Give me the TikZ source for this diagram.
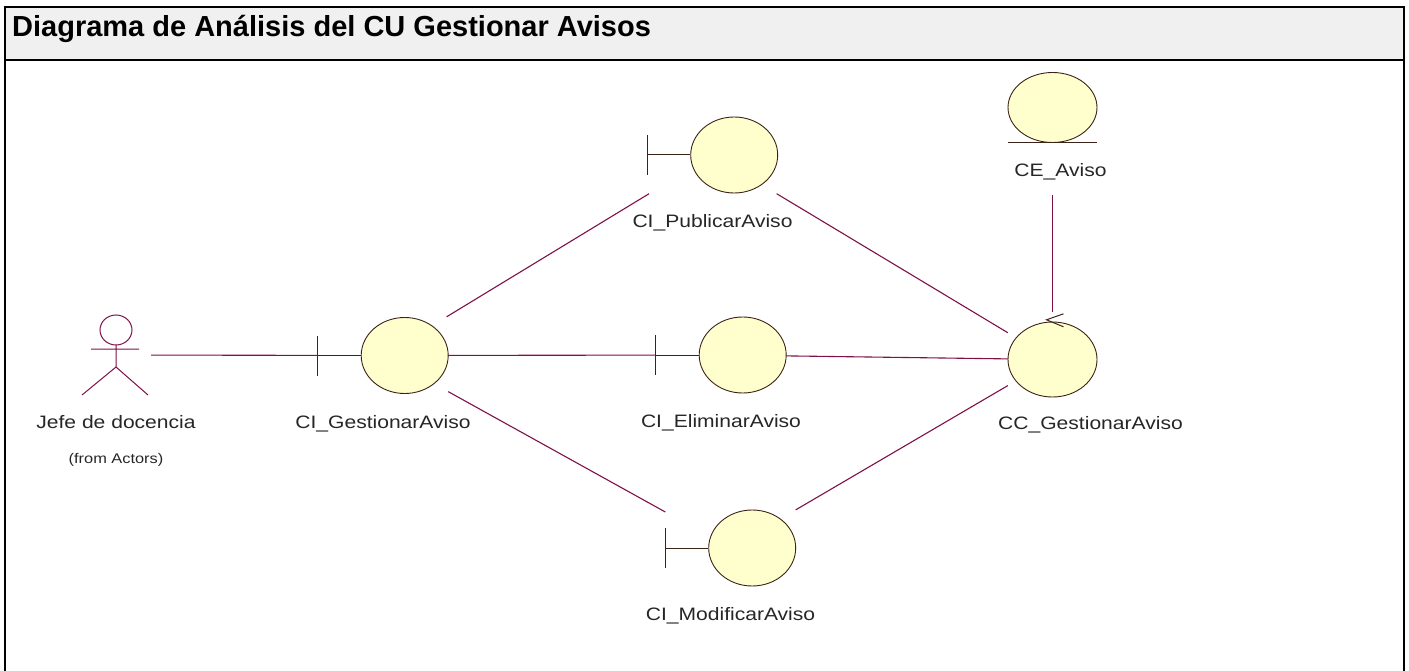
\documentclass[tikz,border=0pt]{standalone}
\usepackage{fontspec}
\setmainfont{Liberation Sans}
\newfontfamily\lblfont[FakeStretch=1.17]{Liberation Sans}
\usetikzlibrary{positioning}
\definecolor{assocc}{RGB}{128,16,72}
\definecolor{objfill}{RGB}{255,255,205}
\definecolor{objline}{RGB}{60,35,25}
\definecolor{titlebg}{RGB}{240,240,240}

\begin{document}
\begin{tikzpicture}[x=1pt,y=-1pt,
    bndbox/.style={inner sep=0pt,minimum width=130pt,minimum height=77pt},
    objbox/.style={inner sep=0pt,minimum width=89pt,minimum height=75pt},
    obj/.style={draw=objline,fill=objfill,line width=0.9pt},
    edge/.style={draw=objline,line width=1pt},
    assoc/.style={draw=assocc,line width=1.1pt},
    lbl/.style={inner sep=0pt,text=black!85,font=\lblfont\fontsize{18}{20}\selectfont},
    node distance=21pt]
  \clip (0,0) rectangle (1409,671);
  % frame and title
  \fill[titlebg] (5,7) rectangle (1404,60);
  \draw[line width=2.5pt] (5,680) -- (5,7) -- (1404,7) -- (1404,680);
  \draw[line width=2.5pt] (5,60) -- (1404,60);
  \node[anchor=west,inner sep=0pt,font=\bfseries\fontsize{29}{34}\selectfont] (title) at (12,29) {Diagrama de Análisis del CU Gestionar Avisos};

  % actor
  \node[inner sep=0pt,minimum width=70pt,minimum height=80pt] (actor) at (116,355) {};
  \draw[draw=assocc,line width=1pt] (actor) ++(0,-25) ellipse [x radius=16pt,y radius=15pt]
    (actor) ++(0,-10) -- ++(0,22) -- ++(-34,28)
    (actor) ++(0,12) -- ++(32,28)
    (actor) ++(-25,-6) -- ++(48,0);
  \node[lbl,below=20pt of actor] (actor-lbl) {Jefe de docencia};
  \node[lbl,font=\lblfont\fontsize{14}{16}\selectfont,below=24pt of actor-lbl] (actor-from) {(from Actors)};

  % boundary objects
  \foreach \n/\cx/\cy/\txt in {gest/383/355.5/CI\_GestionarAviso,
      pub/712.5/155/CI\_PublicarAviso, elim/721/355/CI\_EliminarAviso,
      mod/730.5/548/CI\_ModificarAviso}{
    \node[bndbox] (\n) at (\cx,\cy) {};
    \draw[edge] (\n.west) ++(0,-20) -- ++(0,40) (\n.west) -- ++(43,0);
    \filldraw[obj] (\n.east) ++(-43.5,0) ellipse [x radius=43.5pt,y radius=38pt];
    \node[lbl,below=of \n] (\n-lbl) {\txt};
  }

  % control
  \node[objbox] (cc) at (1052.5,359.5) {};
  \filldraw[obj] (cc) ellipse [x radius=44.5pt,y radius=37.5pt];
  \draw[edge] (cc.north) ++(11,-8) -- ++(-17,6) -- ++(17,7);
  \node[lbl,below=19pt of cc,xshift=38pt] (cc-lbl) {CC\_GestionarAviso};

  % entity
  \node[inner sep=0pt,minimum width=89pt,minimum height=70pt] (ce) at (1052.5,107.5) {};
  \filldraw[obj] (ce) ellipse [x radius=44.5pt,y radius=35pt];
  \draw[edge] (ce.south west) -- (ce.south east);
  \node[lbl,below=21pt of ce,xshift=8pt] (ce-lbl) {CE\_Aviso};

  % associations
  \draw[assoc] (actor) -- (gest);
  \draw[assoc] (gest) -- (pub);
  \draw[assoc] (gest) -- (elim);
  \draw[assoc] (gest) -- (mod);
  \draw[assoc] (pub) -- (cc);
  \draw[assoc] (elim) -- (cc);
  \draw[assoc] (mod) -- (cc);
  \draw[assoc,shorten <=14pt,shorten >=10pt] (ce-lbl.south -| cc) -- (cc.north);
\end{tikzpicture}
\end{document}
